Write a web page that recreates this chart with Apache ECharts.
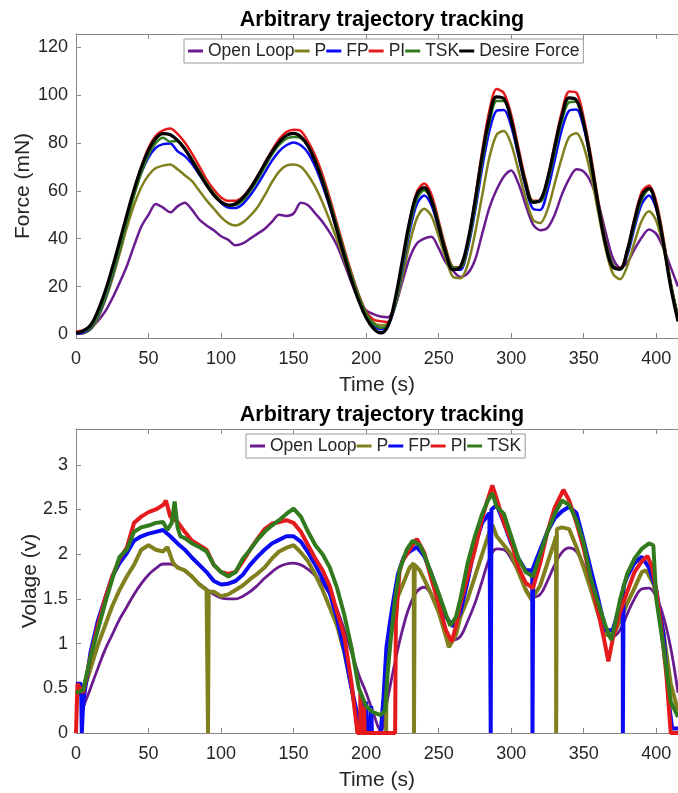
<!DOCTYPE html>
<html>
<head>
<meta charset="utf-8">
<script src="https://cdn.jsdelivr.net/npm/echarts@6/dist/echarts.min.js"></script>
<style>
  html, body { margin: 0; padding: 0; background: #fff; }
  #chart { width: 678px; height: 793px; }
</style>
</head>
<body>
<div id="chart"></div>
<script>
// ---------- shared tick values ----------
const timeTicks = [0, 50, 100, 150, 200, 250, 300, 350, 400];
const forceTicks = [0, 20, 40, 60, 80, 100, 120];
const voltTicks = [0, 0.5, 1, 1.5, 2, 2.5, 3];

// ---------- force tracking (sampled every 5 s) ----------
const forceTime = [0,5,10,15,20,25,30,35,40,45,50,55,60,65,70,75,80,85,90,95,
  100,105,110,115,120,125,130,135,140,145,150,155,160,165,170,175,180,185,190,195,
  200,205,210,215,220,225,230,235,240,245,250,255,260,265,270,275,280,285,290,295,
  300,305,310,315,320,325,330,335,340,345,350,355,360,365,370,375,380,385,390,395,
  400,405,410,415];

const openLoopForce = [0.3,0.5,2.5,5.5,9.5,15,21.5,28.5,37,45,
  50,54.5,53,51,53.5,55,52,48,45.5,43.5,
  41,39.5,37.2,38,40,42,44,47,50,49.5,
  50.5,55,54,50.5,47,42.5,37,29.5,21.5,14.5,
  10,8.5,7.5,7.2,12,22,32,38,40,40.8,
  36,30,26.5,24,25.5,31,42,53,60.5,66,
  68.5,63,54,46,43.5,44.5,50,58.5,65,69,
  68,63.5,55,43,32,28,30,35.5,40.5,43.8,
  42,36,28,20];

const pForce = [0.5,0.6,2,6.5,14,23,33.5,44.5,54,61.5,
  66.5,69.5,70.5,71,69,66.5,64,60,56,52.5,
  49,46.5,45.5,46.8,49.5,53,58,63.5,68,70.5,
  71,70,66.5,61.5,55,47.5,39.5,31,22.5,15,
  9,5,3.8,4.5,11.5,24,38,48.5,52.5,49.5,
  41,31.5,24,23.5,29,42,58,74,83.5,85,
  79.5,68.5,57,48,46.5,52,63,74,82.5,84,
  78.5,66.5,51,36,25.5,23,28.5,38.5,47.5,51.5,
  47.5,36,21,8];

const fpForce = [0.3,0.8,2.5,7.5,14.8,24.5,35.5,47.5,58.5,67.5,
  74,78,79.5,79.8,76.5,74.5,71.2,66.8,62.5,58.5,
  55,53,52.8,54.5,58,62.5,67.5,72.5,76.5,79,
  80.2,79,75.8,70,62.2,53.2,43.5,33.5,24,15.5,
  8.5,4,2.2,3.5,12,27,43,54.5,58,54,
  44.5,33.8,27,27,35.5,51,69.5,85,93.5,93.8,
  87,74.5,61.5,52.5,52,60,72.8,85.8,93.5,94,
  86.5,72,54.5,39,29,27.2,33,44.5,54.5,58,
  52.5,38.5,21,7];

const piForce = [1.2,1.8,3.5,9,16.8,26.8,37.6,49,60,70,
  78,83,85.2,86,83.8,80.2,75.5,70.2,64.8,60.5,
  57.2,55.8,55.8,57.5,61.2,66,71.5,76.8,81.5,84.5,
  85.5,85,80.5,74.5,66.5,56.8,46.2,35.5,25.5,16.5,
  9.5,6.2,5.5,5.2,13,29.5,47,59.5,63,58.5,
  47.5,36,28.2,28,38,56,76.5,93.5,102.5,100.8,
  91.8,78,64.5,55.8,56,65,79.5,93.2,101.5,101,
  90.5,74.5,56,39.5,29,27.5,35,48.5,59.5,62.2,
  55.5,40,21.5,6.5];

const tskForce = [0.8,1.2,2.8,7.8,15.2,25,35.5,47,58,67.5,
  75,80,82.2,80.5,80.8,77.8,73.2,68.2,63.2,59,
  55.5,53.8,54,56,59.8,64.5,69.8,75,79.2,81.8,
  82.5,82,78.8,72.8,65,55.5,45,34.5,24.8,16,
  9,4.5,2.8,3.8,12.5,28,44.5,56.5,60.2,56.5,
  46.5,35,28,27.8,36.5,52.5,72,88.5,97.5,97.5,
  90,76.5,63.5,55.5,55.5,63,76.2,89.5,97,97.2,
  88.8,73.2,55.2,39.2,29.2,27,33.8,46,56.5,60.5,
  54,39,21.5,7];

const desiredForce = [0.5,1.5,3.8,9.7,17.8,27.8,38.6,49.8,60.4,69.7,
  77,81.9,83.9,83.4,81.1,77.4,72.6,67.4,62.4,58.2,
  55.3,54,54.6,57,60.9,65.8,71.1,76.2,80.3,83.1,
  84,82.6,78.6,72.1,63.8,53.9,43.3,32.6,22.6,13.9,
  7,2.5,0.6,3.5,14.8,31,47.2,58.5,61.3,55.9,
  45.2,33.9,27.1,28.3,38.7,55.6,74.6,90.6,99.2,98.4,
  89.4,75.8,62.8,55.2,56.1,64.9,78.4,91.3,98.8,97.8,
  88.1,72.2,53.9,37.9,28.2,27.3,35.1,47.6,58,61,
  53.3,37.8,19.7,5.4];

// ---------- control voltage, [time (s), voltage (V)] ----------
const openLoopVolt = [[4,0.2],[5,0.28],[10,0.5],[15,0.72],[20,0.93],[25,1.1],[30,1.27],[35,1.41],[40,1.55],[45,1.67],
  [50,1.77],[55,1.84],[60,1.89],[65,1.89],[70,1.86],[75,1.81],[80,1.74],[85,1.67],[90,1.61],[95,1.55],
  [100,1.51],[105,1.5],[110,1.5],[115,1.53],[120,1.58],[125,1.65],[130,1.73],[135,1.8],[140,1.86],[145,1.89],
  [150,1.9],[155,1.88],[160,1.83],[165,1.76],[170,1.67],[175,1.55],[180,1.38],[185,1.15],[190,0.9],[195,0.65],
  [200,0.45],[205,0.22],[210,0.02],[215,0.4],[220,0.8],[225,1.15],[230,1.42],[235,1.58],[240,1.63],[245,1.55],
  [250,1.38],[255,1.15],[260,1.04],[265,1.08],[270,1.25],[275,1.45],[280,1.7],[285,1.95],[290,2.06],[295,2.05],
  [300,1.95],[305,1.8],[310,1.62],[315,1.52],[320,1.55],[325,1.7],[330,1.88],[335,2.02],[340,2.07],[345,2.03],
  [350,1.88],[355,1.65],[360,1.4],[365,1.17],[370,1.08],[375,1.15],[380,1.33],[385,1.5],[390,1.61],[395,1.62],
  [400,1.52],[405,1.3],[410,0.95],[415,0.45]];

const pVolt = [[0,0.42],[5,0.46],[10,0.72],[15,0.98],[20,1.2],[25,1.42],[30,1.6],[35,1.75],[40,1.88],[45,2.05],
  [50,2.1],[55,2.05],[60,2.03],[63,2.08],[67,1.9],[70,1.85],[75,1.82],[80,1.75],[85,1.66],[90,1.6],
  [90.8,1.6],[91,0],[91.3,0],[91.5,1.58],[95,1.58],[100,1.53],[105,1.55],[110,1.6],[115,1.65],[120,1.72],
  [125,1.78],[130,1.85],[135,1.95],[140,2.03],[145,2.07],[150,2.1],[155,2.02],[160,1.92],[165,1.77],[170,1.6],
  [175,1.4],[180,1.2],[185,0.9],[190,0.5],[193,0.2],[195,0],[213.8,0],[214,0.6],[216,1.0],[220,1.45],
  [225,1.65],[230,1.85],[232.8,1.9],[233,0],[233.3,0],[233.5,1.88],[237,1.82],[240,1.72],[245,1.55],[250,1.35],
  [255,1.08],[257,0.96],[262,1.1],[265,1.3],[270,1.5],[275,1.75],[280,2.0],[285,2.25],[287,2.33],[290,2.2],
  [295,2.1],[300,2.0],[305,1.8],[310,1.6],[314,1.49],[320,1.65],[325,1.9],[330,2.15],[330.9,2.2],[331,0],
  [331.3,0],[331.5,2.28],[335,2.3],[340,2.28],[345,2.08],[350,1.85],[355,1.6],[360,1.33],[365,1.1],[370,1.08],
  [375,1.25],[380,1.45],[385,1.62],[390,1.8],[393,1.82],[398,1.67],[400,1.55],[405,1.12],[410,0.55],[415,0.25]];

const fpVolt = [[0,0.55],[3.5,0.55],[4,0],[4.5,0],[5,0.35],[10,0.9],[15,1.25],[20,1.5],[25,1.75],[30,1.9],
  [35,2.01],[40,2.15],[45,2.2],[50,2.23],[55,2.25],[60,2.27],[65,2.2],[70,2.12],[75,2.05],[80,1.96],
  [85,1.88],[90,1.8],[95,1.7],[100,1.66],[105,1.67],[110,1.7],[115,1.77],[120,1.88],[125,1.97],[130,2.05],
  [135,2.12],[140,2.16],[145,2.2],[150,2.2],[155,2.14],[160,2.02],[165,1.88],[170,1.72],[175,1.56],[180,1.28],
  [185,0.92],[190,0.5],[194,0.2],[196,0],[197,0.4],[198,0],[200,0.35],[201,0],[203,0],[203.5,0.3],
  [204,0],[210,0],[212,0.4],[214,0.96],[217,1.3],[219,1.5],[222,1.78],[226,1.97],[230,2.03],[235,2.08],
  [240,1.98],[245,1.78],[250,1.55],[255,1.3],[260,1.19],[265,1.35],[270,1.7],[275,2.1],[280,2.35],[285,2.46],
  [285.8,2.46],[285.9,0],[286.3,0],[286.4,2.5],[290,2.55],[295,2.35],[300,2.12],[305,1.95],[310,1.82],[314.5,1.82],
  [314.7,0],[315.1,0],[315.2,1.85],[320,2.05],[325,2.25],[330,2.4],[335,2.48],[340,2.53],[345,2.46],[350,2.15],
  [355,1.82],[360,1.5],[365,1.15],[370,1.15],[372,1.26],[376.9,1.55],[377,0],[377.4,0],[377.5,1.64],[380,1.75],
  [385,1.9],[390,1.97],[395,1.85],[400,1.6],[405,1.1],[409,0.3],[411,0.05],[415,0.05]];

const piVolt = [[0,0],[1,0.55],[5,0.45],[10,0.85],[15,1.2],[20,1.5],[25,1.75],[30,1.95],[35,2.07],[40,2.35],
  [45,2.42],[50,2.47],[55,2.5],[60,2.55],[62,2.6],[65,2.42],[70,2.36],[75,2.25],[80,2.15],[85,2.1],
  [90,2.05],[95,1.88],[100,1.8],[105,1.78],[110,1.8],[115,1.92],[120,2.05],[125,2.17],[130,2.28],[135,2.34],
  [140,2.36],[145,2.38],[150,2.35],[155,2.25],[160,2.1],[165,1.95],[170,1.82],[175,1.64],[180,1.35],[185,1.08],
  [190,0.55],[194,0],[196,0],[196,0.45],[197,0],[198.5,0],[198.5,0.3],[199,0],[220,0],[220.5,1.25],
  [223,1.8],[225,1.92],[230,2.05],[235,2.17],[240,2.02],[245,1.72],[250,1.45],[255,1.15],[259,1.02],[262,1.2],
  [265,1.45],[270,1.75],[275,2.05],[280,2.4],[283,2.57],[287,2.77],[290,2.62],[295,2.35],[300,2.15],[305,1.85],
  [310,1.68],[315,1.62],[320,1.9],[325,2.25],[330,2.52],[336,2.72],[340,2.6],[345,2.35],[350,2.06],[355,1.7],
  [360,1.35],[364,1.05],[367,0.8],[370,1.05],[375,1.35],[380,1.58],[385,1.8],[390,1.92],[394,1.98],[397,1.86],
  [400,1.6],[403,1.25],[407,0.65],[410,0],[415,0]];

const tskVolt = [[0,0.45],[5,0.48],[10,0.85],[15,1.15],[20,1.45],[25,1.72],[30,1.97],[35,2.05],[40,2.25],[45,2.3],
  [50,2.32],[55,2.35],[60,2.36],[63,2.27],[66,2.35],[68,2.59],[70,2.3],[72,2.2],[75,2.18],[80,2.12],
  [85,2.08],[90,2.03],[95,1.88],[100,1.8],[105,1.75],[110,1.8],[115,1.95],[120,2.05],[125,2.16],[130,2.25],
  [135,2.32],[140,2.38],[145,2.45],[150,2.51],[155,2.42],[160,2.25],[165,2.1],[170,2.0],[175,1.85],[180,1.62],
  [185,1.32],[190,0.95],[195,0.5],[200,0.3],[205,0.23],[210,0.2],[213,0.25],[215,0.7],[217,1.05],[220,1.5],
  [223,1.82],[228,2.05],[232,2.15],[237,2.1],[240,2.0],[245,1.78],[250,1.56],[255,1.33],[258,1.2],[262,1.3],
  [265,1.5],[270,1.9],[275,2.2],[280,2.45],[284,2.6],[287,2.68],[290,2.53],[295,2.45],[300,2.2],[305,1.95],
  [310,1.8],[315,1.75],[320,2.0],[325,2.25],[330,2.45],[335,2.6],[340,2.55],[345,2.38],[350,2.12],[355,1.72],
  [360,1.45],[365,1.2],[369,1.04],[372,1.25],[375,1.49],[380,1.78],[385,1.95],[390,2.06],[395,2.12],[398,2.1],
  [400,1.5],[405,0.96],[410,0.35],[415,0.18]];

// ---------- styling ----------
const FONT = '"Liberation Sans", Arial, Helvetica, sans-serif';
const AXIS_COLOR = '#8a8a8a';
const TEXT_COLOR = '#262626';
const COLORS = {
  open: '#6A1B8F',
  p: '#80801E',
  fp: '#0A0AF5',
  pi: '#E41A1C',
  tsk: '#317A1E',
  desired: '#000000'
};

function zip(xs, ys) { return xs.map((x, i) => [x, ys[i]]); }

function bottomXAxis(gridIndex) {
  return {
    type: 'value', gridIndex, position: 'bottom', min: 0, max: 415, interval: 50,
    axisLine: { show: true, onZero: false, lineStyle: { color: AXIS_COLOR, width: 1 } },
    axisTick: { show: true, inside: true, length: 5, customValues: timeTicks, lineStyle: { color: AXIS_COLOR } },
    axisLabel: { fontSize: 18, fontFamily: FONT, color: TEXT_COLOR, margin: 12, customValues: timeTicks },
    splitLine: { show: false },
    name: 'Time (s)', nameLocation: 'middle', nameGap: 37,
    nameTextStyle: { fontSize: 21, fontFamily: FONT, color: TEXT_COLOR }
  };
}
function topXAxis(gridIndex) {
  return {
    type: 'value', gridIndex, position: 'top', min: 0, max: 415, interval: 50,
    axisLine: { show: true, onZero: false, lineStyle: { color: AXIS_COLOR, width: 1 } },
    axisTick: { show: true, inside: true, length: 5, customValues: timeTicks, lineStyle: { color: AXIS_COLOR } },
    axisLabel: { show: false },
    splitLine: { show: false }
  };
}

function lineSeries(name, data, color, width, xi, yi, smooth, z) {
  return {
    name, type: 'line', data, xAxisIndex: xi, yAxisIndex: yi,
    showSymbol: false, symbol: 'none', smooth: smooth, z: z,
    lineStyle: { color, width }, itemStyle: { color },
    emphasis: { disabled: true }, clip: true
  };
}

const legendBase = {
  orient: 'horizontal', icon: 'rect', itemWidth: 15, itemHeight: 3, itemGap: 0,
  padding: [3, 4], borderColor: '#9a9a9a', borderWidth: 1, backgroundColor: '#fff',
  textStyle: { fontSize: 17.5, fontFamily: FONT, color: TEXT_COLOR },
  selectedMode: false
};

const option = {
  animation: false,
  backgroundColor: '#fff',
  title: [
    { text: 'Arbitrary trajectory tracking', left: 377, top: 4, textAlign: 'center',
      textStyle: { fontSize: 21.5, fontWeight: 'bold', fontFamily: FONT, color: '#000' } },
    { text: 'Arbitrary trajectory tracking', left: 377, top: 399, textAlign: 'center',
      textStyle: { fontSize: 21.5, fontWeight: 'bold', fontFamily: FONT, color: '#000' } }
  ],
  legend: [
    Object.assign({}, legendBase, { left: 184, top: 39,
      data: ['Open Loop', 'P', 'FP', 'PI', 'TSK', 'Desire Force'] }),
    Object.assign({}, legendBase, { left: 246, top: 434,
      data: ['Open Loop', 'P', 'FP', 'PI', 'TSK'] })
  ],
  grid: [
    { left: 76, top: 34, width: 602, height: 304 },
    { left: 76, top: 429, width: 602, height: 304 }
  ],
  xAxis: [bottomXAxis(0), topXAxis(0), bottomXAxis(1), topXAxis(1)],
  yAxis: [
    {
      type: 'value', gridIndex: 0, min: -1.5, max: 125.5,
      axisLine: { show: true, onZero: false, lineStyle: { color: AXIS_COLOR, width: 1 } },
      axisTick: { show: true, inside: true, length: 5, customValues: forceTicks, lineStyle: { color: AXIS_COLOR } },
      axisLabel: { fontSize: 18, fontFamily: FONT, color: TEXT_COLOR, margin: 8, customValues: forceTicks },
      splitLine: { show: false },
      name: 'Force (mN)', nameLocation: 'middle', nameGap: 42, nameRotate: 90, nameMoveOverlap: false,
      nameTextStyle: { fontSize: 21, fontFamily: FONT, color: TEXT_COLOR }
    },
    {
      type: 'value', gridIndex: 1, min: 0, max: 3.4,
      axisLine: { show: true, onZero: false, lineStyle: { color: AXIS_COLOR, width: 1 } },
      axisTick: { show: true, inside: true, length: 5, customValues: voltTicks, lineStyle: { color: AXIS_COLOR } },
      axisLabel: { fontSize: 18, fontFamily: FONT, color: TEXT_COLOR, margin: 8, customValues: voltTicks },
      splitLine: { show: false },
      name: 'Volage (v)', nameLocation: 'middle', nameGap: 35, nameRotate: 90, nameMoveOverlap: false,
      nameTextStyle: { fontSize: 21, fontFamily: FONT, color: TEXT_COLOR }
    }
  ],
  series: [
    // force tracking
    lineSeries('Open Loop', zip(forceTime, openLoopForce), COLORS.open, 2.5, 0, 0, 0.3, 2),
    lineSeries('P', zip(forceTime, pForce), COLORS.p, 2.5, 0, 0, 0.3, 3),
    lineSeries('FP', zip(forceTime, fpForce), COLORS.fp, 2.5, 0, 0, 0.3, 4),
    lineSeries('PI', zip(forceTime, piForce), COLORS.pi, 2.5, 0, 0, 0.3, 5),
    lineSeries('TSK', zip(forceTime, tskForce), COLORS.tsk, 2.5, 0, 0, 0.3, 6),
    lineSeries('Desire Force', zip(forceTime, desiredForce), COLORS.desired, 3.2, 0, 0, 0.4, 7),
    // control voltage
    lineSeries('Open Loop', openLoopVolt, COLORS.open, 2.8, 2, 1, 0.4, 2),
    lineSeries('P', pVolt, COLORS.p, 4, 2, 1, false, 3),
    lineSeries('FP', fpVolt, COLORS.fp, 4, 2, 1, false, 4),
    lineSeries('PI', piVolt, COLORS.pi, 4, 2, 1, false, 5),
    lineSeries('TSK', tskVolt, COLORS.tsk, 4, 2, 1, false, 6)
  ]
};

const chart = echarts.init(document.getElementById('chart'), null, { renderer: 'canvas' });
chart.setOption(option);
</script>
</body>
</html>
